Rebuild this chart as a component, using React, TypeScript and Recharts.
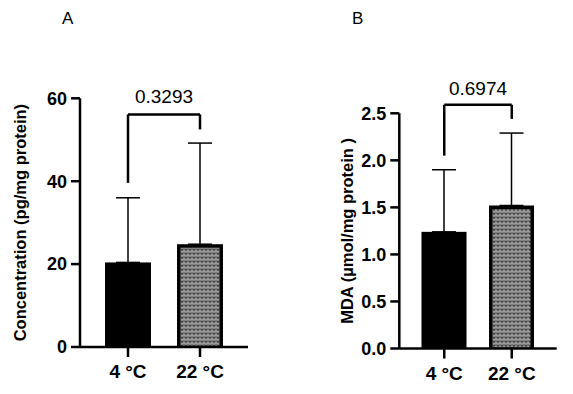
import React from 'react';
import { BarChart, Bar, XAxis, YAxis, ErrorBar, ReferenceLine, Label } from 'recharts';

// Shared groups
const groups = ['4 °C', '22 °C'];

// Panel A: concentration (pg/mg protein)
const concMeans = [20.4, 24.8];
const concSd = [15.6, 24.4];
const concTicks = [0, 20, 40, 60];
const concP = '0.3293';
// bracket levels: [top, left leg end, right leg end]
const concBracket = [56.1, 39.6, 52.5];

// Panel B: MDA (µmol/mg protein)
const mdaMeans = [1.24, 1.52];
const mdaSd = [0.66, 0.77];
const mdaTicks = [0, 0.5, 1.0, 1.5, 2.0, 2.5];
const mdaP = '0.6974';
const mdaBracket = [2.59, 2.05, 2.44];

const FONT = '"Liberation Sans", Arial, Helvetica, sans-serif';

const buildRows = (means: number[], sds: number[]) =>
  groups.map((g, i) => ({ group: g, mean: means[i], err: [0, sds[i]], solid: i === 0 }));

// Solid black bar for the first group; the second is a black frame filled with a knit pattern
const BarShape = (props: any) => {
  const { x, y, width, height, payload } = props;
  if (payload && payload.solid) {
    return <rect x={x} y={y} width={width} height={height} fill="#000" />;
  }
  const b = 3.5;
  return (
    <g>
      <rect x={x} y={y} width={width} height={height} fill="#000" />
      <rect
        x={x + b}
        y={y + b}
        width={Math.max(0, width - 2 * b)}
        height={Math.max(0, height - b - 1)}
        fill="url(#knitPattern)"
      />
    </g>
  );
};

type PanelProps = {
  left: number;
  width: number;
  yAxisWidth: number;
  marginTop: number;
  marginRight: number;
  marginBottom: number;
  padding: number;
  barSize: number;
  means: number[];
  sds: number[];
  ticks: number[];
  domainMax: number;
  pValue: string;
  bracket: number[];
  pOffset: number;
  yTitle: string;
  yTitleX: number;
  decimals: number;
};

function Panel(p: PanelProps) {
  const rows = buildRows(p.means, p.sds);
  const axisStroke = { stroke: '#000', strokeWidth: 2.5 };
  return (
    <div style={{ position: 'absolute', left: p.left, top: 0 }}>
      <BarChart
        width={p.width}
        height={394}
        data={rows}
        margin={{ top: p.marginTop, right: p.marginRight, bottom: p.marginBottom, left: 0 }}
        barCategoryGap={0}
      >
        <XAxis
          dataKey="group"
          type="category"
          padding={{ left: p.padding, right: p.padding }}
          height={30}
          tickSize={10}
          tickMargin={8}
          axisLine={axisStroke}
          tickLine={axisStroke}
          tick={{ fill: '#000', fontSize: 19, fontWeight: 700, fontFamily: FONT }}
          interval={0}
        />
        <YAxis
          type="number"
          width={p.yAxisWidth}
          domain={[0, p.domainMax]}
          ticks={p.ticks}
          interval={0}
          tickSize={9}
          tickMargin={4}
          axisLine={axisStroke}
          tickLine={axisStroke}
          tickFormatter={(v: number) => v.toFixed(p.decimals)}
          tick={{ fill: '#000', fontSize: 18, fontWeight: 700, fontFamily: FONT }}
        >
          <Label
            content={(lp: any) => {
              const vb = lp.viewBox || {};
              const cy = (vb.y ?? 0) + (vb.height ?? 0) / 2;
              const cx = p.yTitleX;
              return (
                <text
                  x={cx}
                  y={cy}
                  transform={`rotate(-90 ${cx} ${cy})`}
                  textAnchor="middle"
                  dominantBaseline="central"
                  fontFamily={FONT}
                  fontWeight={700}
                  fontSize={16.5}
                  fill="#000"
                >
                  {p.yTitle}
                </text>
              );
            }}
          />
        </YAxis>
        <Bar dataKey="mean" barSize={p.barSize} isAnimationActive={false} shape={BarShape} fill="#000">
          <ErrorBar
            dataKey="err"
            direction="y"
            width={12}
            stroke="#000"
            strokeWidth={1.5}
            isAnimationActive={false}
          />
        </Bar>
        <ReferenceLine
          segment={[
            { x: groups[0], y: p.bracket[0] },
            { x: groups[1], y: p.bracket[0] },
          ]}
          stroke="#000"
          strokeWidth={2.5}
          ifOverflow="visible"
          label={{
            value: p.pValue,
            position: 'top',
            offset: p.pOffset,
            fill: '#000',
            fontSize: 19,
            fontFamily: FONT,
          }}
        />
        <ReferenceLine
          segment={[
            { x: groups[0], y: p.bracket[0] },
            { x: groups[0], y: p.bracket[1] },
          ]}
          stroke="#000"
          strokeWidth={2.5}
          ifOverflow="visible"
        />
        <ReferenceLine
          segment={[
            { x: groups[1], y: p.bracket[0] },
            { x: groups[1], y: p.bracket[2] },
          ]}
          stroke="#000"
          strokeWidth={2.5}
          ifOverflow="visible"
        />
      </BarChart>
    </div>
  );
}

export default function App() {
  return (
    <div
      style={{
        position: 'absolute',
        left: 0,
        top: 0,
        width: 573,
        height: 394,
        background: '#fff',
        overflow: 'hidden',
        fontFamily: FONT,
      }}
    >
      <svg width={0} height={0} style={{ position: 'absolute' }}>
        <defs>
          <pattern id="knitPattern" width={4} height={4} patternUnits="userSpaceOnUse">
            <rect width={4} height={4} fill="#9a9a9a" />
            <path d="M0.5,0.6 L2,2.4 L3.5,0.6" fill="none" stroke="#404040" strokeWidth={1.1} />
          </pattern>
        </defs>
      </svg>
      <div style={{ position: 'absolute', left: 62, top: 9, fontSize: 17, lineHeight: '20px', color: '#000' }}>A</div>
      <div style={{ position: 'absolute', left: 352, top: 9, fontSize: 17, lineHeight: '20px', color: '#000' }}>B</div>
      <Panel
        left={0}
        width={260}
        yAxisWidth={80}
        marginTop={98.3}
        marginRight={12}
        marginBottom={17}
        padding={12}
        barSize={46}
        means={concMeans}
        sds={concSd}
        ticks={concTicks}
        domainMax={60}
        pValue={concP}
        bracket={concBracket}
        pOffset={11}
        yTitle="Concentration (pg/mg protein)"
        yTitleX={20}
        decimals={0}
      />
      <Panel
        left={300}
        width={270}
        yAxisWidth={99.3}
        marginTop={113.3}
        marginRight={13.3}
        marginBottom={15.5}
        padding={11.2}
        barSize={45}
        means={mdaMeans}
        sds={mdaSd}
        ticks={mdaTicks}
        domainMax={2.5}
        pValue={mdaP}
        bracket={mdaBracket}
        pOffset={10}
        yTitle="MDA (µmol/mg protein )"
        yTitleX={47}
        decimals={1}
      />
    </div>
  );
}
